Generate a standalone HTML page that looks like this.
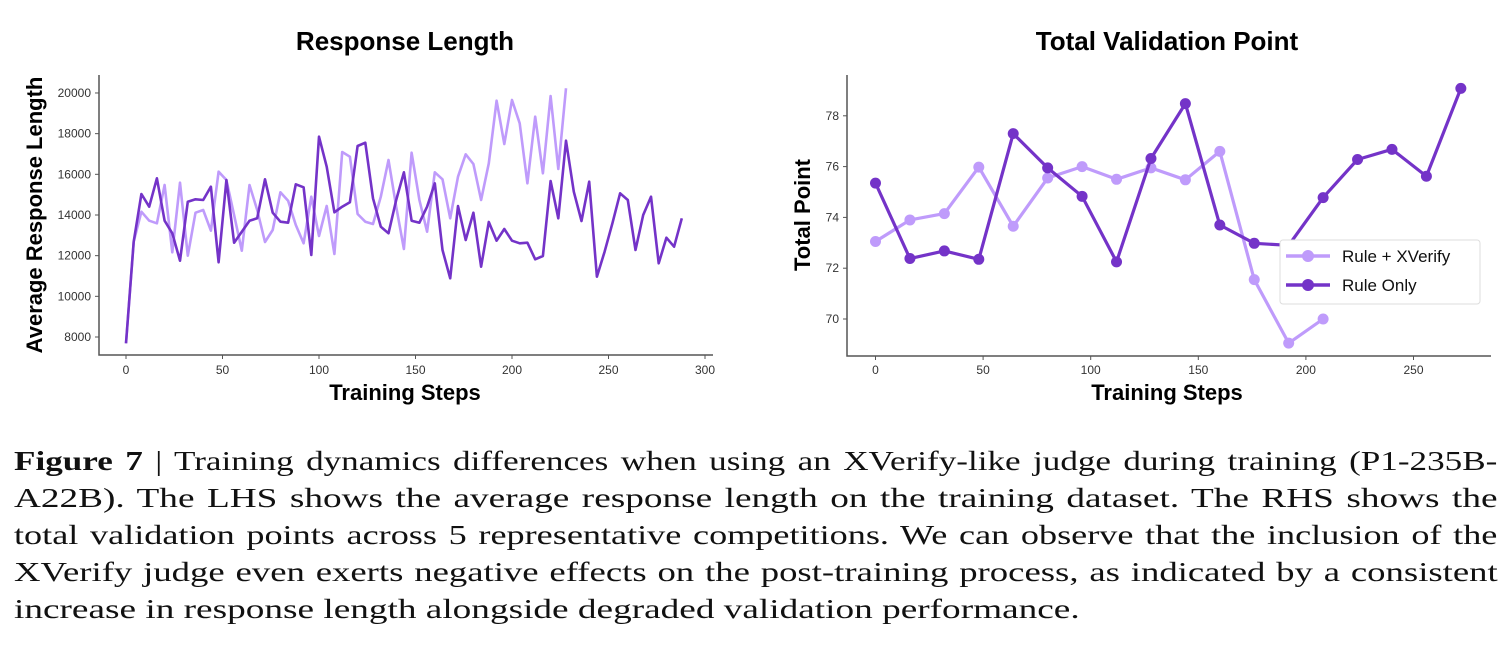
<!DOCTYPE html>
<html><head><meta charset="utf-8"><style>
body{margin:0;background:#fff;width:1512px;height:668px;overflow:hidden;position:relative}
svg{position:absolute;left:0;top:0}
.cap{position:absolute;left:14px;width:1075px;font-family:"Liberation Serif",serif;font-size:27px;color:#111;text-align:justify;text-align-last:justify;white-space:nowrap;line-height:30px;transform:scaleX(1.38);transform-origin:0 0}
</style></head><body>
<svg width="1512" height="430" font-family="Liberation Sans, sans-serif">
<g font-weight="bold" fill="#000">
<text x="405" y="50" font-size="26" text-anchor="middle">Response Length</text>
<text x="1167" y="50" font-size="26" text-anchor="middle">Total Validation Point</text>
<text x="405" y="400" font-size="22" text-anchor="middle">Training Steps</text>
<text x="1167" y="400" font-size="22" text-anchor="middle">Training Steps</text>
<text transform="translate(42,215) rotate(-90)" font-size="22" text-anchor="middle">Average Response Length</text>
<text transform="translate(810,215) rotate(-90)" font-size="22" text-anchor="middle">Total Point</text>
</g>
<g stroke="#555" stroke-width="1.5" fill="none">
<path d="M99,75 V355 H713"/>
<path d="M847,75 V356 H1491"/>
</g>
<g id="lt" font-size="12" fill="#333" stroke="#555">
</g>
<g id="lines" fill="none" stroke-width="2.6" stroke-linejoin="round"></g>
<g id="leg">
<rect x="1280" y="240" width="200" height="64" fill="#fff" stroke="#ddd" rx="3"/>
<line x1="1286" y1="256" x2="1330" y2="256" stroke="#bf9bfb" stroke-width="3.5"/><circle cx="1308" cy="256" r="6" fill="#bf9bfb"/>
<line x1="1286" y1="285" x2="1330" y2="285" stroke="#7433c8" stroke-width="3.5"/><circle cx="1308" cy="285" r="6" fill="#7433c8"/>
<text x="1342" y="262" font-size="17" fill="#111">Rule + XVerify</text>
<text x="1342" y="291" font-size="17" fill="#111">Rule Only</text>
</g>
</svg>
<div class="cap" style="top:446px;transform:scaleX(1.3);width:1141px"><b>Figure 7</b> | Training dynamics differences when using an XVerify-like judge during training (P1-235B-</div>
<div class="cap" style="top:483px">A22B). The LHS shows the average response length on the training dataset. The RHS shows the</div>
<div class="cap" style="top:520px;transform:scaleX(1.34);width:1107px">total validation points across 5 representative competitions. We can observe that the inclusion of the</div>
<div class="cap" style="top:557px;transform:scaleX(1.36);width:1091px">XVerify judge even exerts negative effects on the post-training process, as indicated by a consistent</div>
<div class="cap" style="top:594px;text-align-last:left">increase in response length alongside degraded validation performance.</div>
<script>
const NS="http://www.w3.org/2000/svg";
function el(p,t,a,txt){const e=document.createElementNS(NS,t);for(const k in a)e.setAttribute(k,a[k]);if(txt!==undefined)e.textContent=txt;p.appendChild(e);return e;}
const lt=document.getElementById('lt'),ln=document.getElementById('lines');
for(let i=0;i<=6;i++){const s=i*50,x=126+s*1.93;el(lt,'line',{x1:x,y1:355,x2:x,y2:359});el(lt,'text',{x:x,y:374,'text-anchor':'middle',stroke:'none'},s);}
for(let i=0;i<7;i++){const v=8000+i*2000,y=337-i*40.67;el(lt,'line',{x1:95,y1:y,x2:99,y2:y});el(lt,'text',{x:91,y:y+4,'text-anchor':'end',stroke:'none'},v);}
for(let i=0;i<=5;i++){const s=i*50,x=875.5+s*2.152;el(lt,'line',{x1:x,y1:356,x2:x,y2:360});el(lt,'text',{x:x,y:374,'text-anchor':'middle',stroke:'none'},s);}
for(let v=70;v<=78;v+=2){const y=319-(v-70)*25.4;el(lt,'line',{x1:843,y1:y,x2:847,y2:y});el(lt,'text',{x:839,y:y+4,'text-anchor':'end',stroke:'none'},v);}
const dark=[820,515,372,410,325,452,490,572,395,388,390,350,577,330,518,485,452,445,328,428,455,458,343,352,555,200,290,427,410,397,228,218,385,470,490,390,307,452,458,410,340,540,625,408,510,428,590,456,512,477,512,520,518,568,558,333,445,212,365,453,335,620,545,460,370,390,540,435,380,580,503,530,445];
const light=[820,515,425,452,460,345,547,338,557,428,420,482,305,330,435,542,345,420,516,480,367,392,465,520,380,498,408,552,246,260,432,455,462,380,270,410,537,248,390,485,307,328,445,320,253,282,390,280,92,222,90,160,340,140,310,78,297,55];
function lp(a){return a.map((y,i)=>(i?'L':'M')+(126+i*4*1.93).toFixed(1)+','+(70+y/3).toFixed(1)).join(' ');}
el(ln,'path',{d:lp(light),stroke:'#bf9bfb'});
el(ln,'path',{d:lp(dark),stroke:'#7433c8'});
const rl=[73.05,73.9,74.15,75.98,73.65,75.55,76.0,75.5,75.95,75.48,76.6,71.55,69.05,70.0];
const rd=[75.35,72.38,72.68,72.35,77.3,75.95,74.83,72.25,76.32,78.48,73.7,72.98,72.9,74.78,76.28,76.68,75.62,79.08];
function rp(a,c){const pts=a.map((v,i)=>[875.5+i*16*2.152,319-(v-70)*25.4]);
el(ln,'path',{d:pts.map((p,i)=>(i?'L':'M')+p[0]+','+p[1]).join(' '),stroke:c,'stroke-width':3.2});
pts.forEach(p=>el(ln,'circle',{cx:p[0],cy:p[1],r:5.5,fill:c,stroke:'none'}));}
rp(rl,'#bf9bfb');rp(rd,'#7433c8');
</script>
</body></html>
